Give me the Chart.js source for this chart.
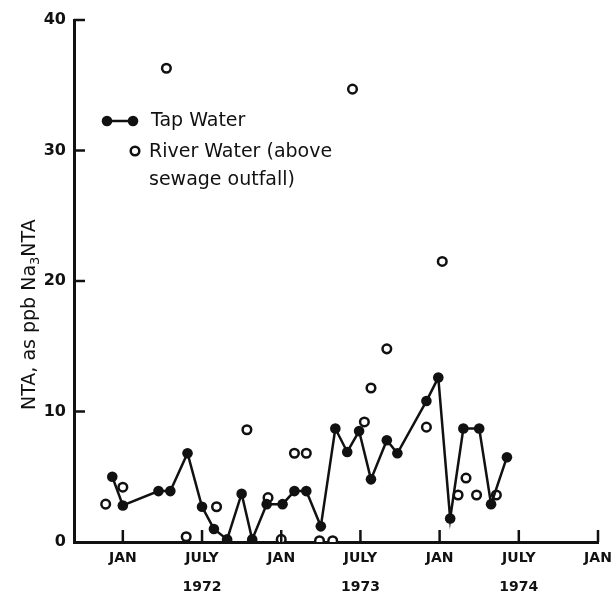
<!DOCTYPE html>
<html>
<head>
<meta charset="utf-8">
<script src="https://cdn.jsdelivr.net/npm/chart.js@4.4.0/dist/chart.umd.min.js"></script>
<style>
  body { margin: 0; background: #fff; }
</style>
</head>
<body>
<canvas id="grafico" width="616" height="599"></canvas>
<script>
// meses contados desde enero de 1972 (0 = JAN 1972)
const tapMonths = [-0.8, 0, 2.7, 3.6, 4.9, 6.0, 6.9, 7.9, 9.0, 9.8, 10.9, 12.1, 13.0, 13.9, 15.0, 16.1, 17.0, 17.9, 18.8, 20.0, 20.8, 23.0, 23.9, 24.8, 25.8, 27.0, 27.9, 29.1];
const tapValues = [5.0, 2.8, 3.9, 3.9, 6.8, 2.7, 1.0, 0.2, 3.7, 0.2, 2.9, 2.9, 3.9, 3.9, 1.2, 8.7, 6.9, 8.5, 4.8, 7.8, 6.8, 10.8, 12.6, 1.8, 8.7, 8.7, 2.9, 6.5];

const riverMonths = [-1.3, 0, 3.3, 4.8, 7.1, 9.4, 11.0, 12.0, 13.0, 13.9, 14.9, 15.9, 17.4, 18.3, 18.8, 20.0, 23.0, 24.2, 25.4, 26.0, 26.8, 28.3];
const riverValues = [2.9, 4.2, 36.3, 0.4, 2.7, 8.6, 3.4, 0.2, 6.8, 6.8, 0.1, 0.1, 34.7, 9.2, 11.8, 14.8, 8.8, 21.5, 3.6, 4.9, 3.6, 3.6];

const tickMonths = [0, 6, 12, 18, 24, 30, 36];
const tickMonthNames = ['JAN', 'JULY', 'JAN', 'JULY', 'JAN', 'JULY', 'JAN'];
const tickYears = ['', '1972', '', '1973', '', '1974', ''];
const yTicks = [0, 10, 20, 30, 40];

const tapLabel = 'Tap Water';
const riverLabel = ['River Water (above', 'sewage outfall)'];
const yTitle = ['NTA, as ppb Na', '3', 'NTA']; // el "3" va como subíndice

const tinta = '#111';
const fuente = 'DejaVu Sans';

// ticks hacia adentro, titulo del eje y la leyenda dentro del grafico
const extras = {
  id: 'extras',
  afterDraw(chart) {
    const { ctx, chartArea: a, scales: { x, y } } = chart;
    ctx.save();
    ctx.strokeStyle = tinta;
    ctx.fillStyle = tinta;
    ctx.lineWidth = 2.5;

    const linea = (x1, y1, x2, y2) => {
      ctx.beginPath();
      ctx.moveTo(x1, y1);
      ctx.lineTo(x2, y2);
      ctx.stroke();
    };

    tickMonths.forEach(m => {
      const px = x.getPixelForValue(m);
      linea(px, a.bottom, px, a.bottom - 12);
    });
    yTicks.slice(1).forEach(v => {
      const py = y.getPixelForValue(v);
      linea(a.left, py, a.left + 11, py);
    });

    // titulo vertical con subindice
    ctx.save();
    ctx.translate(30, 410);
    ctx.rotate(-Math.PI / 2);
    ctx.textBaseline = 'middle';
    ctx.textAlign = 'left';
    let pos = 0;
    ctx.font = '19px "' + fuente + '"';
    ctx.fillText(yTitle[0], pos, 0);
    pos += ctx.measureText(yTitle[0]).width;
    ctx.font = '13px "' + fuente + '"';
    ctx.fillText(yTitle[1], pos, 6);
    pos += ctx.measureText(yTitle[1]).width;
    ctx.font = '19px "' + fuente + '"';
    ctx.fillText(yTitle[2], pos, 0);
    ctx.restore();

    // leyenda
    ctx.lineWidth = 2.5;
    linea(107, 121, 133, 121);
    [107, 133].forEach(cx => {
      ctx.beginPath();
      ctx.arc(cx, 121, 5.3, 0, Math.PI * 2);
      ctx.fill();
    });
    ctx.beginPath();
    ctx.arc(135, 151, 4.3, 0, Math.PI * 2);
    ctx.fillStyle = '#fff';
    ctx.fill();
    ctx.stroke();

    ctx.fillStyle = tinta;
    ctx.font = '19px "' + fuente + '"';
    ctx.textBaseline = 'middle';
    ctx.textAlign = 'left';
    ctx.fillText(tapLabel, 151, 121);
    ctx.fillText(riverLabel[0], 149, 152);
    ctx.fillText(riverLabel[1], 149, 180);
    ctx.restore();
  }
};

const tapData = tapMonths.map((m, i) => ({ x: m, y: tapValues[i] }));
const riverData = riverMonths.map((m, i) => ({ x: m, y: riverValues[i] }));

const grafico = document.getElementById('grafico');
const miGrafica = new Chart(grafico, {
  type: 'scatter',
  data: {
    datasets: [
      {
        label: tapLabel,
        data: tapData,
        showLine: true,
        borderColor: tinta,
        borderWidth: 2.5,
        backgroundColor: tinta,
        pointBackgroundColor: tinta,
        pointBorderColor: tinta,
        pointBorderWidth: 0,
        pointRadius: 5.3,
        tension: 0,
        order: 0
      },
      {
        label: riverLabel.join(' '),
        data: riverData,
        showLine: false,
        pointBackgroundColor: '#fff',
        pointBorderColor: tinta,
        pointBorderWidth: 2.5,
        pointRadius: 4.3,
        order: 1
      }
    ]
  },
  options: {
    responsive: false,
    animation: false,
    layout: { padding: { top: 20, right: 18, left: 0, bottom: 0 } },
    plugins: { legend: { display: false }, tooltip: { enabled: false } },
    scales: {
      x: {
        type: 'linear',
        min: -3.7,
        max: 36,
        grid: { display: false, drawTicks: false },
        border: { color: tinta, width: 3 },
        afterBuildTicks: s => { s.ticks = tickMonths.map(v => ({ value: v })); },
        afterFit: s => { s.height = 57; },
        ticks: {
          padding: 2,
          color: tinta,
          maxRotation: 0,
          autoSkip: false,
          font: { family: fuente, size: 14, weight: 'bold', lineHeight: 2.05 },
          callback: (v, i) => tickYears[i] ? [tickMonthNames[i], tickYears[i]] : tickMonthNames[i]
        }
      },
      y: {
        min: 0,
        max: 40,
        grid: { display: false, drawTicks: false },
        border: { color: tinta, width: 3 },
        afterBuildTicks: s => { s.ticks = yTicks.map(v => ({ value: v })); },
        afterFit: s => { s.width = 74; },
        ticks: {
          padding: 8,
          color: tinta,
          font: { family: fuente, size: 16, weight: 'bold' }
        }
      }
    }
  },
  plugins: [extras]
});
</script>
</body>
</html>
